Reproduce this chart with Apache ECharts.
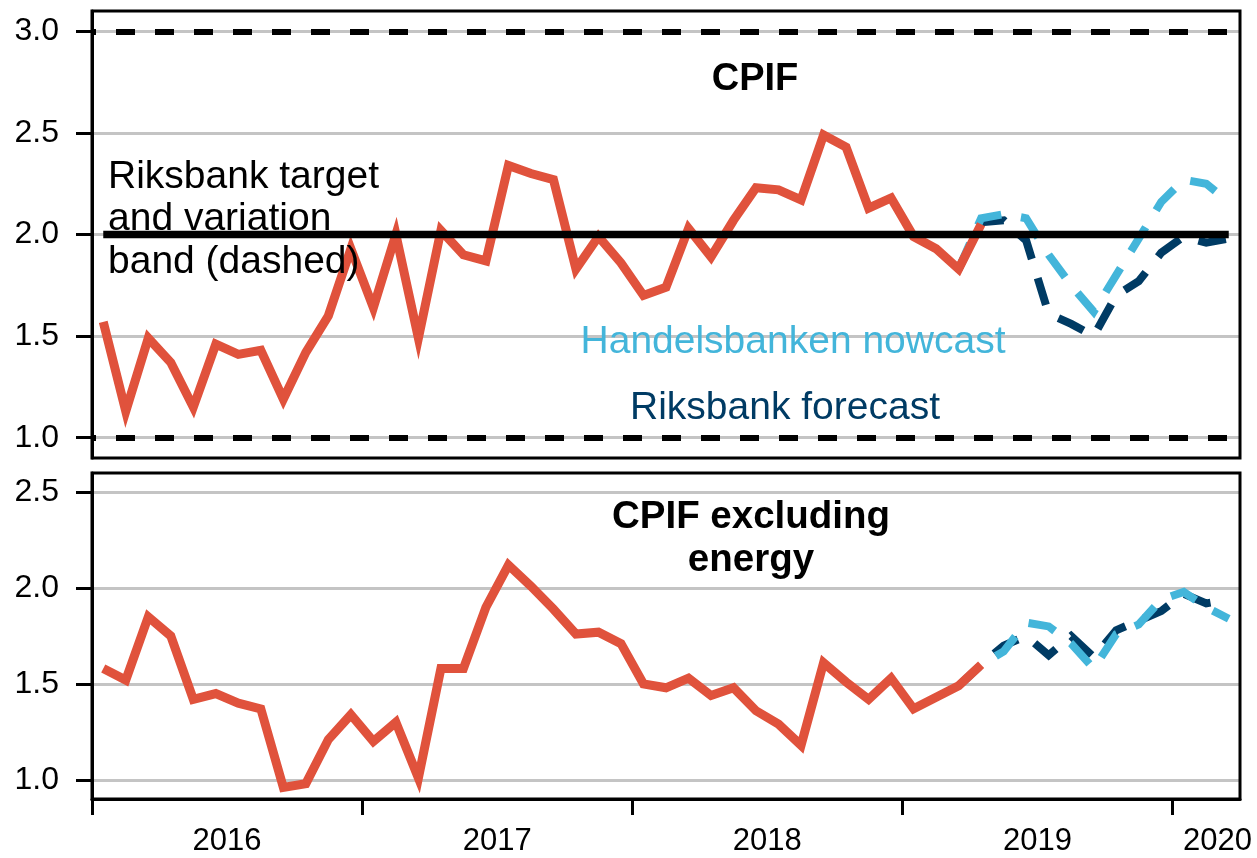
<!DOCTYPE html>
<html><head><meta charset="utf-8">
<script src="https://cdn.jsdelivr.net/npm/echarts@6/dist/echarts.min.js"></script>
<style>html,body{margin:0;padding:0;background:#fff}#c{width:1257px;height:858px}</style>
</head><body><div id="c"></div>
<script>
// Monthly categories, Jan 2016 .. Mar 2020
const months = [
 '2016-01','2016-02','2016-03','2016-04','2016-05','2016-06','2016-07','2016-08','2016-09','2016-10','2016-11','2016-12',
 '2017-01','2017-02','2017-03','2017-04','2017-05','2017-06','2017-07','2017-08','2017-09','2017-10','2017-11','2017-12',
 '2018-01','2018-02','2018-03','2018-04','2018-05','2018-06','2018-07','2018-08','2018-09','2018-10','2018-11','2018-12',
 '2019-01','2019-02','2019-03','2019-04','2019-05','2019-06','2019-07','2019-08','2019-09','2019-10','2019-11','2019-12',
 '2020-01','2020-02','2020-03'];
const yearLabels = ['2016','2017','2018','2019','2020'];
const yearStartTicks = [0, 12, 24, 36, 48];
const yearLabelPos = [6, 18, 30, 42, 50];
const topTicks = [1.0, 1.5, 2.0, 2.5, 3.0];
const bottomTicks = [1.0, 1.5, 2.0, 2.5];

// CPIF (actual), from 2016-01
const cpif = [1.57,1.13,1.49,1.37,1.15,1.46,1.41,1.43,1.19,1.42,1.60,1.93,1.64,2.00,1.49,2.02,1.90,1.87,2.34,2.30,
              2.27,1.83,1.99,1.86,1.70,1.74,2.03,1.89,2.07,2.23,2.22,2.17,2.49,2.43,2.13,2.18,1.99,1.93,1.83,2.05];
// Forecasts, from 2019-03
const forecastStart = 38;
const cpifNowcast = [1.83,2.08,2.10,2.08,1.90,1.75,1.62,1.80,1.98,2.16,2.27,2.25,2.16];
const cpifRiksbank = [1.83,2.06,2.07,1.97,1.61,1.56,1.50,1.70,1.77,1.91,1.99,1.96,1.98];

// CPIF excluding energy (actual), from 2016-01
const cpifxe = [1.58,1.52,1.85,1.75,1.42,1.45,1.40,1.37,0.96,0.98,1.21,1.34,1.20,1.30,1.01,1.58,1.58,1.90,2.12,2.01,
                1.89,1.76,1.77,1.71,1.50,1.48,1.53,1.44,1.48,1.36,1.29,1.18,1.61,1.51,1.42,1.53,1.37,1.43,1.49,1.60];
const cpifxeNowcast = [1.49,1.60,1.67,1.82,1.80,1.71,1.58,1.76,1.81,1.94,1.98,1.90,1.84];
const cpifxeRiksbank = [1.49,1.60,1.70,1.75,1.65,1.75,1.64,1.78,1.83,1.88,1.97,1.92,1.94];

// Riksbank target and variation band
const target = 2.0;
const bandLow = 1.0, bandHigh = 3.0;

const FONT = '"Liberation Sans", Arial, Helvetica, sans-serif';
const RED = '#E0523C', LIGHT = '#43B5DA', NAVY = '#003B64';

function pairs(vals, start) { return vals.map((v, k) => [start + k + 0.5, v]); }
const targetData = months.map((m, i) => [i + 0.5, target]);

function yAxisCfg(grid, min, max, ticks) {
  return {
    gridIndex: grid, type: 'value', min: min, max: max,
    axisLine: { show: true, lineStyle: { color: '#000', width: 3 } },
    axisTick: { show: true, length: 16, customValues: ticks, lineStyle: { color: '#000', width: 3 } },
    axisLabel: { customValues: ticks, formatter: v => v.toFixed(1), fontSize: 32, color: '#000', fontFamily: FONT, margin: 33 },
    splitLine: { show: true, lineStyle: { color: '#c4c4c4', width: 3 } }
  };
}
function line(name, grid, data, color, width, dashed, z) {
  return {
    name: name, type: 'line', xAxisIndex: grid, yAxisIndex: grid, data: data,
    symbol: 'none', showSymbol: false, z: z, silent: true,
    lineStyle: { color: color, width: width, type: dashed ? [28, 20] : 'solid', join: 'miter', cap: 'butt' }
  };
}

const chart = echarts.init(document.getElementById('c'), null, { renderer: 'canvas' });
chart.setOption({
  animation: false,
  backgroundColor: '#fff',
  grid: [
    { left: 92, top: 11, width: 1148, height: 447, show: true, borderColor: '#000', borderWidth: 3, z: 10 },
    { left: 92, top: 473, width: 1148, height: 326, show: true, borderColor: '#000', borderWidth: 3, z: 10 }
  ],
  xAxis: [
    { gridIndex: 0, type: 'value', min: 0, max: months.length, show: false },
    { gridIndex: 1, type: 'value', min: 0, max: months.length,
      axisLine: { show: true, lineStyle: { color: '#000', width: 3 } },
      axisTick: { show: true, length: 16, customValues: yearStartTicks, lineStyle: { color: '#000', width: 3 } },
      axisLabel: { customValues: yearLabelPos, formatter: v => yearLabels[Math.floor(v / 12)], fontSize: 31, color: '#000', fontFamily: FONT, margin: 27 },
      splitLine: { show: false } }
  ],
  yAxis: [ yAxisCfg(0, 0.9, 3.1, topTicks), yAxisCfg(1, 0.9, 2.6, bottomTicks) ],
  series: [
    line('Riksbank forecast', 0, pairs(cpifRiksbank, forecastStart), NAVY, 8, true, 2),
    line('Handelsbanken nowcast', 0, pairs(cpifNowcast, forecastStart), LIGHT, 8, true, 3),
    line('CPIF', 0, pairs(cpif, 0), RED, 9, false, 4),
    Object.assign(line('Target', 0, targetData, '#000', 7.5, false, 5), {
      markLine: {
        silent: true, symbol: ['none', 'none'], label: { show: false },
        lineStyle: { color: '#000', width: 6, type: [19, 20], dashOffset: 15 },
        data: [{ yAxis: bandHigh }, { yAxis: bandLow }]
      }
    }),
    line('Riksbank forecast', 1, pairs(cpifxeRiksbank, forecastStart), NAVY, 8, true, 2),
    line('Handelsbanken nowcast', 1, pairs(cpifxeNowcast, forecastStart), LIGHT, 8, true, 3),
    line('CPIF excluding energy', 1, pairs(cpifxe, 0), RED, 9, false, 4)
  ],
  graphic: [
    { type: 'text', x: 755, y: 80, z: 20, style: { text: 'CPIF', fontSize: 38, fontWeight: 'bold', fontFamily: FONT, fill: '#000', align: 'center', verticalAlign: 'middle' } },
    { type: 'text', x: 108, y: 219.5, z: 20, style: { text: 'Riksbank target\nand variation\nband (dashed)', fontSize: 39, fontFamily: FONT, fill: '#000', align: 'left', verticalAlign: 'middle', lineHeight: 42.5 } },
    { type: 'text', x: 793, y: 342, z: 20, style: { text: 'Handelsbanken nowcast', fontSize: 39, fontFamily: FONT, fill: LIGHT, align: 'center', verticalAlign: 'middle' } },
    { type: 'text', x: 785, y: 408, z: 20, style: { text: 'Riksbank forecast', fontSize: 39, fontFamily: FONT, fill: NAVY, align: 'center', verticalAlign: 'middle' } },
    { type: 'text', x: 751, y: 538.5, z: 20, style: { text: 'CPIF excluding\nenergy', fontSize: 38.5, fontWeight: 'bold', fontFamily: FONT, fill: '#000', align: 'center', verticalAlign: 'middle', lineHeight: 43 } }
  ]
});
</script></body></html>
